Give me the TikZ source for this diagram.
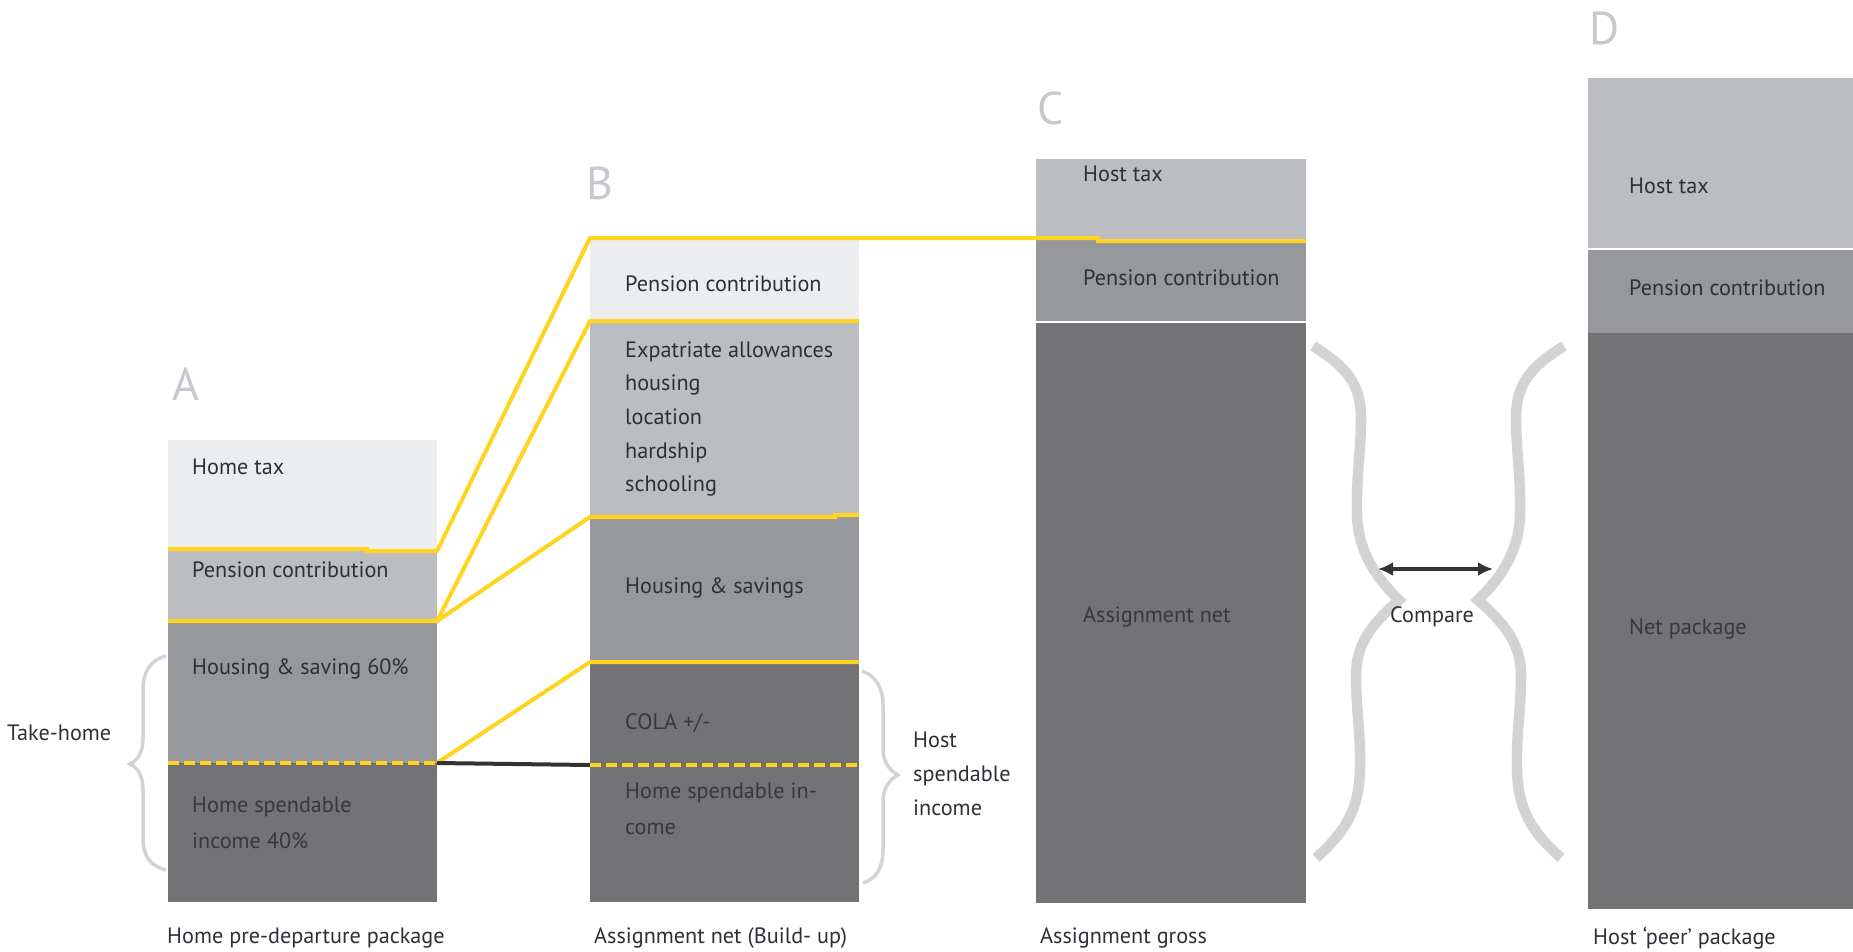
\documentclass[tikz,border=0pt]{standalone}
\usepackage{fontspec}
\setmainfont{PT Sans}
\usetikzlibrary{arrows.meta}

\definecolor{tone1}{HTML}{ECEDEE}
\definecolor{tone2}{HTML}{BCBDC0}
\definecolor{tone3}{HTML}{97989B}
\definecolor{tone4}{HTML}{737375}
\definecolor{yel}{RGB}{255,212,30}
\definecolor{txt}{HTML}{2F3036}
\definecolor{txtdk}{HTML}{38383B}
\definecolor{bracecol}{HTML}{D2D3D5}
\definecolor{lettercol}{HTML}{C6C8CE}
\definecolor{arrowcol}{HTML}{333333}

\tikzset{
  cell/.style={inner sep=0pt, outer sep=0pt, anchor=north west, draw=none},
  lbl/.style={anchor=west, inner sep=0pt, text=txt, align=left,
              font=\fontsize{22.2}{34}\selectfont},
  lbldk/.style={lbl, text=txtdk},
  letter/.style={inner sep=0pt, text=lettercol, font=\fontsize{46}{46}\selectfont},
  yline/.style={draw=yel, line width=4pt},
  ydash/.style={draw=yel, line width=4pt, dash pattern=on 11pt off 5pt},
  blkline/.style={draw=arrowcol, line width=4pt},
  sep/.style={draw=white, line width=2pt},
  smallbrace/.style={draw=bracecol, line width=3.5pt},
  bigbrace/.style={draw=bracecol, line width=10.5pt},
  cmparrow/.style={draw=arrowcol, line width=4pt,
                   {Latex[length=15pt,width=14pt]}-{Latex[length=15pt,width=14pt]}}
}

\begin{document}
\begin{tikzpicture}[x=1pt,y=-1pt]
\useasboundingbox (0,0) rectangle (1853,951);

% ---- column A: home pre-departure package
\node[cell,fill=tone1,minimum width=269pt,minimum height=109pt] (A1) at (168,440) {};
\node[cell,fill=tone2,minimum width=269pt,minimum height=72pt]  (A2) at (168,549) {};
\node[cell,fill=tone3,minimum width=269pt,minimum height=142pt] (A3) at (168,621) {};
\node[cell,fill=tone4,minimum width=269pt,minimum height=139pt] (A4) at (168,763) {};

% ---- column B: assignment net (build-up)
\node[cell,fill=tone1,minimum width=269pt,minimum height=83pt]  (B1) at (590,238) {};
\node[cell,fill=tone2,minimum width=269pt,minimum height=196pt] (B2) at (590,321) {};
\node[cell,fill=tone3,minimum width=269pt,minimum height=145pt] (B3) at (590,517) {};
\node[cell,fill=tone4,minimum width=269pt,minimum height=240pt] (B4) at (590,662) {};

% ---- column C: assignment gross
\node[cell,fill=tone2,minimum width=270pt,minimum height=81pt]  (C1) at (1036,159) {};
\node[cell,fill=tone3,minimum width=270pt,minimum height=82pt]  (C2) at (1036,240) {};
\node[cell,fill=tone4,minimum width=270pt,minimum height=581pt] (C3) at (1036,322) {};

% ---- column D: host peer package
\node[cell,fill=tone2,minimum width=265pt,minimum height=171pt] (D1) at (1588,78) {};
\node[cell,fill=tone3,minimum width=265pt,minimum height=84pt]  (D2) at (1588,249) {};
\node[cell,fill=tone4,minimum width=265pt,minimum height=576pt] (D3) at (1588,333) {};

\draw[sep] (C2.south west) -- (C2.south east);
\draw[sep] (D1.south west) -- (D1.south east);

% ---- yellow links between the columns
\draw[yline] (A1.south west) -- ([xshift=199pt]A1.south west)
  -- ([xshift=199pt,yshift=-2pt]A1.south west) -- ([yshift=-2pt]A1.south east)
  -- (B1.north west) -- ([xshift=508pt]B1.north west)
  -- ([xshift=508pt,yshift=-3pt]B1.north west) -- ([yshift=-1pt]C1.south east);
\draw[yline] (A2.south west) -- (A2.south east) -- (B2.north west) -- (B2.north east);
\draw[yline] (A2.south east) -- (B3.north west) -- ([xshift=245pt]B3.north west)
  -- ([xshift=245pt,yshift=2pt]B3.north west) -- ([yshift=2pt]B3.north east);
\draw[ydash] (A3.south west) -- (A3.south east);
\draw[yline] (A3.south east) -- (B4.north west) -- (B4.north east);
\coordinate (Bsplit) at (590,765);
\coordinate (BsplitR) at (859,765);
\draw[blkline] (A3.south east) -- (Bsplit);
\draw[ydash] (Bsplit) -- (BsplitR);

% ---- column letters
\node[letter] (LA) at (186,384) {A};
\node[letter] (LB) at (600,183) {B};
\node[letter] (LC) at (1051,108) {C};
\node[letter] (LD) at (1605,28) {D};

% ---- texts in column A
\node[lbl] (tA1) at (192,467) {Home tax};
\node[lbl] (tA2) at (192,570) {Pension contribution};
\node[lbl] (tA3) at (192,669) {Housing \& saving 60\%};
\node[lbldk,font=\fontsize{22.2}{36}\selectfont] (tA4) at (192,823) {Home spendable\\income 40\%};

% ---- texts in column B
\node[lbl] (tB1) at (625,284) {Pension contribution};
\node[lbl,font=\fontsize{22.2}{33.7}\selectfont] (tB2) at (625,419) {Expatriate allowances\\housing\\location\\hardship\\schooling};
\node[lbl] (tB3) at (625,588) {Housing \& savings};
\node[lbldk] (tB4) at (625,723) {COLA +/-};
\node[lbldk,font=\fontsize{22.2}{36}\selectfont] (tB5) at (625,809) {Home spendable in-\\come};

% ---- texts in column C
\node[lbl] (tC1) at (1083,174) {Host tax};
\node[lbl] (tC2) at (1083,278) {Pension contribution};
\node[lbldk] (tC3) at (1083,617) {Assignment net};

% ---- texts in column D
\node[lbl] (tD1) at (1629,186) {Host tax};
\node[lbl] (tD2) at (1629,288) {Pension contribution};
\node[lbldk] (tD3) at (1629,629) {Net package};

% ---- captions
\node[lbl] (capA) at (167,938) {Home pre-departure package};
\node[lbl] (capB) at (594,938) {Assignment net (Build- up)};
\node[lbl] (capC) at (1040,938) {Assignment gross};
\node[lbl] (capD) at (1593,938) {Host `peer' package};

% ---- take-home brace
\draw[smallbrace] (166,656) .. controls (150,660) and (143,672) .. (143,690)
  -- (143,738) .. controls (143,752) and (138,760) .. (130,764)
  .. controls (138,768) and (143,776) .. (143,790)
  -- (143,838) .. controls (143,856) and (150,866) .. (166,870);
\node[lbl] (take) at (7,733) {Take-home};

% ---- host spendable income brace
\draw[smallbrace] (862,671) .. controls (876,676) and (883,688) .. (883,705)
  -- (883,748) .. controls (883,762) and (889,770) .. (898,775)
  .. controls (889,780) and (883,788) .. (883,802)
  -- (883,850) .. controls (883,868) and (876,879) .. (863,883);
\node[lbl] (hostsp) at (913,774) {Host\\spendable\\income};

% ---- compare braces
\draw[bigbrace] (1313,346) .. controls (1345,366) and (1361,383) .. (1361,418)
  .. controls (1361,450) and (1356,478) .. (1357,515)
  .. controls (1358,550) and (1375,577) .. (1399,600)
  .. controls (1377,620) and (1356,640) .. (1356,675)
  .. controls (1356,710) and (1361,735) .. (1360,770)
  .. controls (1359,810) and (1345,832) .. (1316,858);
\begin{scope}[shift={(2877,0)},xscale=-1]
\draw[bigbrace] (1313,346) .. controls (1345,366) and (1361,383) .. (1361,418)
  .. controls (1361,450) and (1356,478) .. (1357,515)
  .. controls (1358,550) and (1375,577) .. (1399,600)
  .. controls (1377,620) and (1356,640) .. (1356,675)
  .. controls (1356,710) and (1361,735) .. (1360,770)
  .. controls (1359,810) and (1345,832) .. (1316,858);
\end{scope}
\coordinate (cmpL) at (1378,569);
\coordinate (cmpR) at (1493,569);
\draw[cmparrow] (cmpL) -- (cmpR);
\node[lbl,anchor=center] (cmp) at (1432,617) {Compare};

\end{tikzpicture}
\end{document}
